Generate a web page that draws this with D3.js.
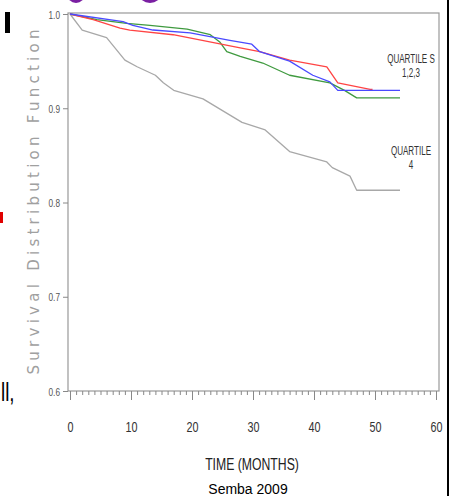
<!DOCTYPE html>
<html><head><meta charset="utf-8">
<script src="https://cdn.jsdelivr.net/npm/d3@7"></script>
<style>
html,body{margin:0;padding:0;background:#fff;}
svg{display:block;}
</style></head>
<body>
<svg id="c" width="454" height="496"></svg>
<script>
// ---- data ----
const xTicks = [0, 10, 20, 30, 40, 50, 60];
const yTicks = [0.6, 0.7, 0.8, 0.9, 1.0];

const q4Months = [0, 2, 6, 9, 11, 14, 15.3, 17, 21.8, 28.2, 32, 36, 42.1, 43, 45.9, 47, 54.1];
const q4Surv   = [1.0, 0.983, 0.975, 0.951, 0.944, 0.935, 0.927, 0.919, 0.910, 0.885, 0.877, 0.854, 0.843, 0.837, 0.828, 0.813, 0.813];

const greenMonths = [0, 4.4, 9.3, 13.1, 19.2, 23, 24.6, 25.7, 27.9, 31.6, 36, 42.6, 45, 47, 54.1];
const greenSurv   = [1.0, 0.994, 0.990, 0.988, 0.984, 0.978, 0.970, 0.960, 0.955, 0.948, 0.935, 0.927, 0.919, 0.911, 0.911];

const redMonths = [0, 3.8, 8.2, 9.8, 16.9, 27.9, 31.1, 36, 42.1, 43.9, 49.2, 49.6];
const redSurv   = [1.0, 0.994, 0.985, 0.983, 0.978, 0.964, 0.960, 0.951, 0.944, 0.927, 0.920, 0.920];

const blueMonths = [0, 8.7, 10.3, 13.6, 19.7, 26.2, 29.8, 31.1, 36, 39.8, 42.6, 43.9, 54.1];
const blueSurv   = [1.0, 0.992, 0.988, 0.983, 0.980, 0.972, 0.968, 0.960, 0.950, 0.935, 0.928, 0.919, 0.919];

const annotations = [
  {label: "QUARTILE S", t: 55.9, s: 0.948},
  {label: "1,2,3",      t: 55.9, s: 0.933},
  {label: "QUARTILE",   t: 55.9, s: 0.850},
  {label: "4",          t: 55.9, s: 0.836}
];

const seriesList = [
  {months: q4Months, surv: q4Surv, color: "#a8a8a8"},
  {months: greenMonths, surv: greenSurv, color: "#3f9a3f"},
  {months: redMonths, surv: redSurv, color: "#ff4444"},
  {months: blueMonths, surv: blueSurv, color: "#4a4aff"}
];

// ---- drawing ----
const svg = d3.select("#c");
const x = d3.scaleLinear().domain([0, 60]).range([70, 436]);
const y = d3.scaleLinear().domain([0.6, 1.0]).range([391, 14]);
const SANS = "Liberation Sans, Arial";

// slide fragments around the chart
svg.append("ellipse").attr("cx", 76).attr("cy", -6).attr("rx", 9).attr("ry", 9).attr("fill", "#7a1fa2");
svg.append("ellipse").attr("cx", 150).attr("cy", -6).attr("rx", 11).attr("ry", 9).attr("fill", "#7a1fa2");
svg.append("rect").attr("x", 5).attr("y", 12).attr("width", 5).attr("height", 21).attr("fill", "#000");
svg.append("rect").attr("x", 0).attr("y", 212).attr("width", 3).attr("height", 11).attr("fill", "#e00000");
svg.append("text").attr("transform", "translate(1,401) scale(0.75,1)").attr("font-family", SANS)
  .attr("font-size", 25).attr("fill", "#000").text("ll,");
svg.append("rect").attr("x", 447).attr("y", 0).attr("width", 2).attr("height", 496).attr("fill", "#000");

// plot frame
svg.append("rect").attr("x", 68).attr("y", 13).attr("width", 371).attr("height", 378)
  .attr("fill", "none").attr("stroke", "#999").attr("stroke-width", 1.2);

// x axis: minor and major ticks
const minor = d3.range(0, 61, 1);
svg.append("g").attr("transform", "translate(0,391)")
  .call(d3.axisBottom(x).tickValues(minor).tickSize(4).tickFormat(""))
  .call(g => g.select(".domain").remove())
  .call(g => g.selectAll("line").attr("stroke", "#888"));
const xg = svg.append("g").attr("transform", "translate(0,391)")
  .call(d3.axisBottom(x).tickValues(xTicks).tickSize(9).tickFormat(""))
  .call(g => g.select(".domain").remove())
  .call(g => g.selectAll("line").attr("stroke", "#888"));
xg.selectAll(".tick").append("text")
  .attr("transform", "translate(0,41) scale(0.72,1)").attr("text-anchor", "middle")
  .attr("font-family", SANS).attr("font-size", 15).attr("fill", "#333")
  .text(d => d3.format("d")(d));

// y axis
const yg = svg.append("g").attr("transform", "translate(68,0)")
  .call(d3.axisLeft(y).tickValues(yTicks).tickSize(5).tickFormat(""))
  .call(g => g.select(".domain").remove())
  .call(g => g.selectAll("line").attr("stroke", "#888"));
yg.selectAll(".tick").append("text")
  .attr("transform", "translate(-8,4) scale(0.75,1)").attr("text-anchor", "end")
  .attr("font-family", SANS).attr("font-size", 11).attr("fill", "#555")
  .text(d => d3.format(".1f")(d));

// curves
const line = d3.line().x(d => x(d[0])).y(d => y(d[1]));
seriesList.forEach(s => {
  const pts = s.months.map((m, i) => [m, s.surv[i]]);
  svg.append("path").datum(pts).attr("d", line).attr("fill", "none")
    .attr("stroke", s.color).attr("stroke-width", 1.3).attr("stroke-linejoin", "round");
});

// annotations
svg.append("g").selectAll("text").data(annotations).join("text")
  .attr("transform", d => `translate(${x(d.t)},${y(d.s)}) scale(0.62,1)`)
  .attr("text-anchor", "middle").attr("font-family", SANS)
  .attr("font-size", 13).attr("fill", "#333").text(d => d.label);

// axis titles
svg.append("text").attr("transform", "translate(39,202) rotate(-90)")
  .attr("text-anchor", "middle").attr("font-family", "DejaVu Sans, Verdana")
  .attr("font-size", 15).attr("fill", "#a0a0a0").attr("textLength", 345).attr("lengthAdjust", "spacing")
  .text("Survival Distribution Function");
svg.append("text").attr("transform", "translate(252,470) scale(0.72,1)").attr("text-anchor", "middle")
  .attr("font-family", SANS).attr("font-size", 17).attr("fill", "#222")
  .text("TIME (MONTHS)");
svg.append("text").attr("x", 248).attr("y", 494).attr("text-anchor", "middle")
  .attr("font-family", SANS).attr("font-size", 14).attr("fill", "#000")
  .text("Semba 2009");
</script>
</body></html>
